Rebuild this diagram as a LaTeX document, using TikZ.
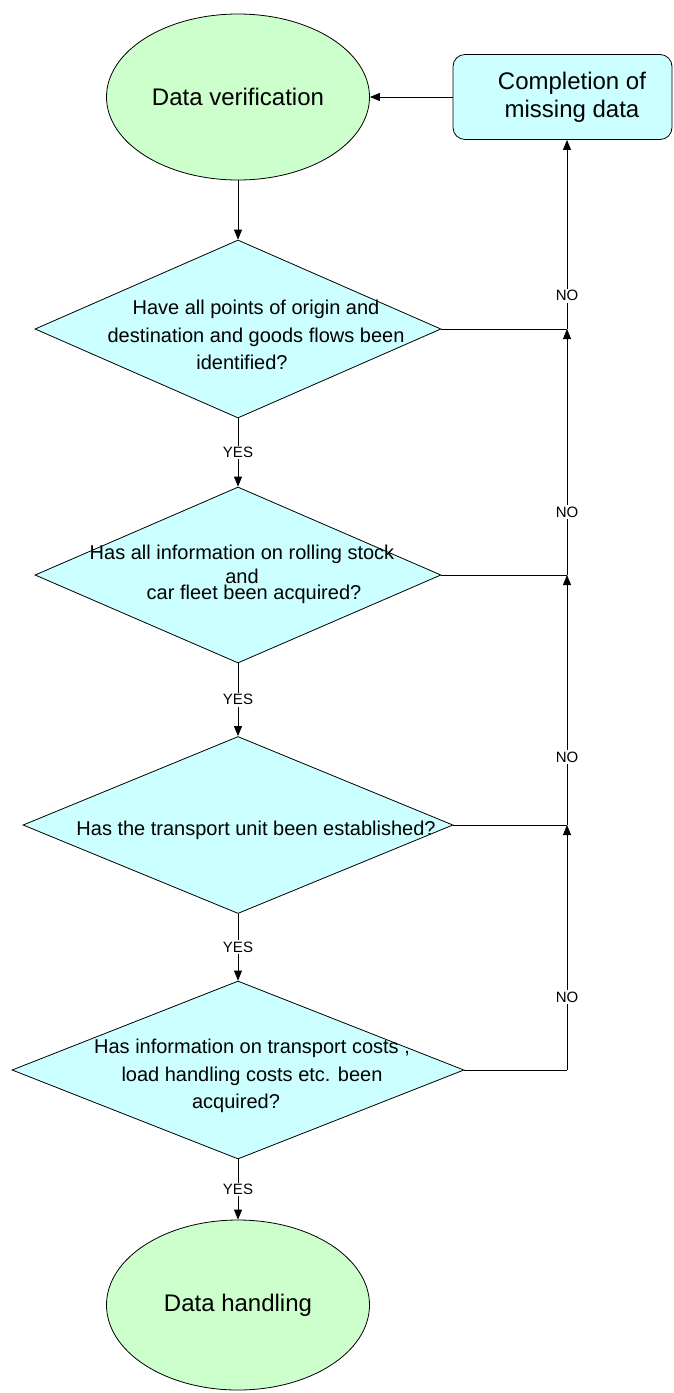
\documentclass[tikz,border=0pt]{standalone}
\usepackage{fontspec}
\setmainfont{Liberation Sans}
\usetikzlibrary{shapes.geometric,arrows.meta}
\definecolor{lgreen}{RGB}{204,255,204}
\definecolor{lcyan}{RGB}{204,255,255}
\begin{document}
\begin{tikzpicture}[x=1pt,y=-1pt,line width=0.8pt,
  term/.style={ellipse, draw, fill=lgreen, minimum width=263pt, minimum height=166pt, inner sep=0pt, font=\fontsize{24}{28}\selectfont},
  dec/.style={diamond, draw, fill=lcyan, inner sep=0pt},
  qtext/.style={align=center, font=\fontsize{20}{27.5}\selectfont, inner sep=0pt},
  proc/.style={rectangle, rounded corners=12pt, draw, fill=lcyan, minimum width=219pt, minimum height=85pt},
  ptext/.style={align=center, font=\fontsize{24}{28}\selectfont, inner sep=0pt},
  arr/.style={-{Triangle[length=10pt,width=8pt]}},
  lbl/.style={fill=white, font=\fontsize{15}{18}\selectfont, inner sep=1.5pt}]
\useasboundingbox (0,0) rectangle (673,1393);

% nodes
\node[term] (e1) at (238,97) {Data verification};
\node[proc] (box) at (562.5,97) {};
\node[ptext] (boxt) at (572,97) {Completion of\\missing data};

\node[dec, minimum width=406pt, minimum height=178pt] (d1) at (238,329) {};
\node[qtext] (t1) at (256,335) {Have all points of origin and\\destination and goods flows been\\identified?\rule{28pt}{0pt}};

\node[dec, minimum width=406pt, minimum height=176pt] (d2) at (238,575) {};
\node[qtext, font=\fontsize{20}{24}\selectfont] (t2) at (242,574) {Has all information on rolling stock\\and\\[-8pt]\rule{24pt}{0pt}car fleet been acquired?};

\node[dec, minimum width=430pt, minimum height=177pt] (d3) at (238,825) {};
\node[qtext] (t3) at (256,830) {Has the transport unit been established?};

\node[dec, minimum width=452pt, minimum height=178pt] (d4) at (238,1070) {};
\node[qtext] (t4) at (252,1076) {Has information on transport costs ,\\load handling costs etc. been\\acquired?\rule{32pt}{0pt}};

\node[term, minimum height=170pt] (e2) at (238,1305) {Data handling};

% junctions
\coordinate (j1) at (567,329);
\coordinate (j2) at (567,575);
\coordinate (j3) at (567,825);
\coordinate (j4) at (567,1070);

% main flow
\draw[arr] (box.west) -- (e1.east);
\draw[arr] (e1) -- (d1);
\draw[arr] (d1) -- node[lbl]{YES} (d2);
\draw[arr] (d2) -- node[lbl]{YES} (d3);
\draw[arr] (d3) -- node[lbl]{YES} (d4);
\draw[arr] (d4) -- node[lbl]{YES} (e2);

% NO branches
\draw (d1.east) -- (j1);
\draw[arr] (j1) -- node[lbl,pos=0.176]{NO} (j1 |- box.south);
\draw (d2.east) -- (j2);
\draw[arr] (j2) -- node[lbl,pos=0.255]{NO} (j1);
\draw (d3.east) -- (j3);
\draw[arr] (j3) -- node[lbl,pos=0.272]{NO} (j2);
\draw (d4.east) -- (j4);
\draw[arr] (j4) -- node[lbl,pos=0.298]{NO} (j3);
\end{tikzpicture}
\end{document}
